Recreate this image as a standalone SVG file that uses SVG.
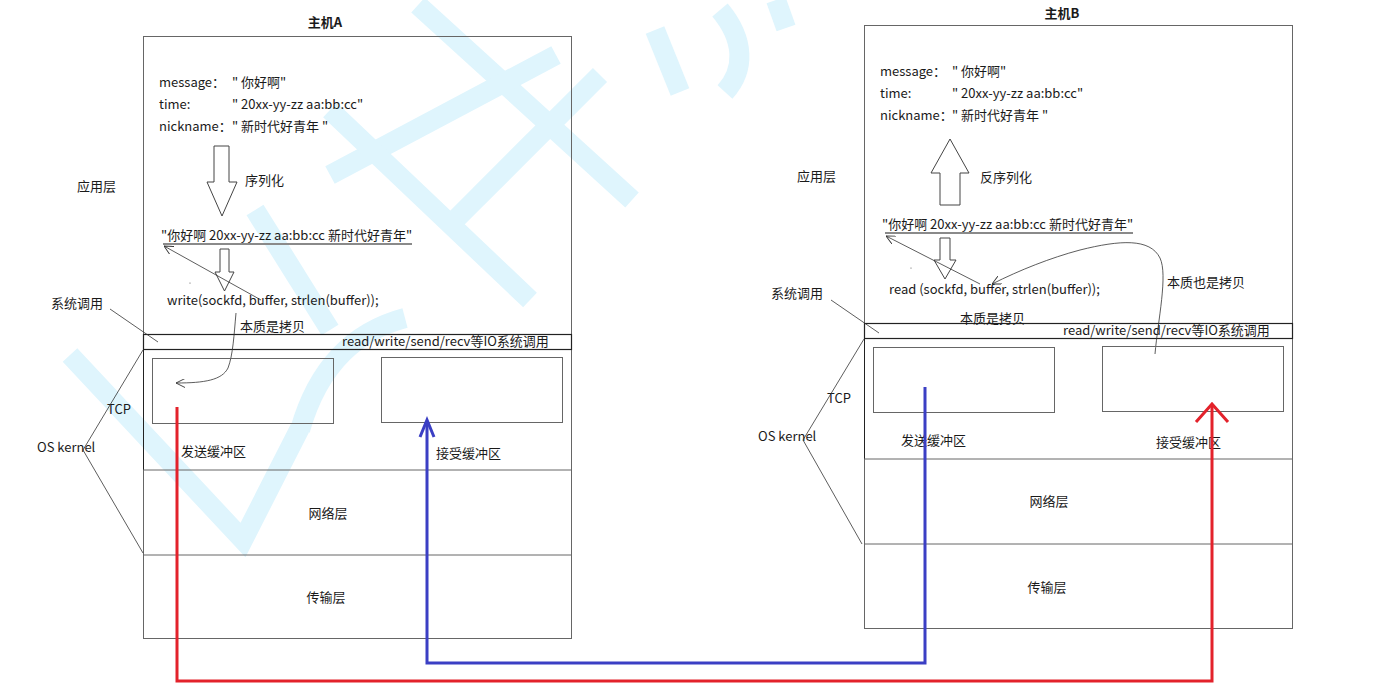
<svg xmlns="http://www.w3.org/2000/svg" width="1379" height="699" viewBox="0 0 1379 699">
<defs>
<style>
.t{font-family:"Noto Sans CJK SC","Noto Sans",sans-serif;font-size:13px;fill:#1a1a1a}
.b{font-weight:bold}
.box{fill:none;stroke:#666;stroke-width:1}
.band{fill:none;stroke:#222;stroke-width:1.2}
.ln{fill:none;stroke:#333;stroke-width:0.8}
.arr{fill:#fff;stroke:#444;stroke-width:1}
.ul{stroke:#8a8a8a;stroke-width:2}
.wm{fill:none;stroke:#dff5fd;stroke-width:20}
.red{fill:none;stroke:#e3222b;stroke-width:3}
.blue{fill:none;stroke:#3b3fc4;stroke-width:3}
</style>
<marker id="open" viewBox="0 0 10 10" refX="10" refY="5" markerWidth="9" markerHeight="9" orient="auto" markerUnits="userSpaceOnUse">
<path d="M0,0 L10,5 L0,10" fill="none" stroke="#333" stroke-width="1"/>
</marker>
</defs>
<rect width="1379" height="699" fill="#fff"/>
<g id="watermark">
<path class="wm" d="M418,5 L632,200"/>
<path class="wm" d="M556,55 L330,175"/>
<path class="wm" d="M600,75 L450,225"/>
<path class="wm" d="M330,110 L530,300"/>
<path class="wm" d="M255,210 L330,330"/>
<path class="wm" d="M300,430 C320,360 360,330 405,318"/>
<path class="wm" d="M70,355 L243,540 L300,428"/>
<path class="wm" d="M655,30 L680,92"/>
<path class="wm" d="M720,10 C745,40 745,70 725,92"/>
<path class="wm" d="M776,0 L786,28"/>
</g>
<g id="hostA">
<text x="325" y="27" text-anchor="middle" class="t b">主机A</text>
<rect x="143.5" y="36.5" width="428" height="602" class="box"/>
<rect x="143.5" y="334.5" width="428" height="15" class="band"/>
<line x1="143.5" y1="350" x2="143.5" y2="470" stroke="#222"/>
<line x1="143" y1="470" x2="572" y2="470" class="box"/>
<line x1="143" y1="555" x2="572" y2="555" class="box"/>
<text x="159" y="87" class="t">message：</text><text x="232" y="87" class="t">" 你好啊"</text>
<text x="159" y="109" class="t">time:</text><text x="232" y="109" class="t">" 20xx-yy-zz aa:bb:cc"</text>
<text x="159" y="131" class="t">nickname：</text><text x="232" y="131" class="t">" 新时代好青年 "</text>
<polygon class="arr" points="214,146 229,146 229,182 237,182 222,216 207,182 214,182"/>
<text x="245" y="185" class="t">序列化</text>
<text x="161" y="240" class="t">"你好啊 20xx-yy-zz aa:bb:cc 新时代好青年"</text>
<line x1="163" y1="244" x2="412" y2="244" class="ul"/>
<polygon class="arr" points="220,249 229,249 229,272 234,272 224.5,291 215,272 220,272"/>
<line x1="261" y1="300" x2="164" y2="246" class="ln" marker-end="url(#open)"/>
<circle cx="190" cy="283" r="0.6" fill="#555"/>
<text x="167" y="305" class="t">write(sockfd, buffer, strlen(buffer));</text>
<text x="240" y="331" class="t">本质是拷贝</text>
<path d="M236,313 C234,335 233,355 228,368 C222,380 205,383 176,383" class="ln" marker-end="url(#open)"/>
<text x="342" y="346" class="t">read/write/send/recv等IO系统调用</text>
<rect x="152.5" y="358.5" width="181" height="65" class="box"/>
<rect x="381.5" y="357.5" width="181" height="65" class="box"/>
<text x="181" y="456" class="t">发送缓冲区</text>
<text x="436" y="458" class="t">接受缓冲区</text>
<text x="328" y="518" text-anchor="middle" class="t">网络层</text>
<text x="326" y="602" text-anchor="middle" class="t">传输层</text>
<text x="77" y="191" class="t">应用层</text>
<text x="51" y="308" class="t">系统调用</text>
<line x1="110" y1="309" x2="158" y2="342" class="ln"/>
<text x="107" y="414" class="t">TCP</text>
<text x="37" y="452" class="t">OS kernel</text>
<polyline points="143,350 83,450 143,553" class="ln"/>
</g>
<g id="hostB">
<text x="1062" y="18" text-anchor="middle" class="t b">主机B</text>
<rect x="864.5" y="25.5" width="428" height="603" class="box"/>
<rect x="864.5" y="323.5" width="428" height="15" class="band"/>
<line x1="864.5" y1="339" x2="864.5" y2="459" stroke="#222"/>
<line x1="864" y1="459" x2="1293" y2="459" class="box"/>
<line x1="864" y1="544" x2="1293" y2="544" class="box"/>
<text x="880" y="76" class="t">message：</text><text x="952" y="76" class="t">" 你好啊"</text>
<text x="880" y="98" class="t">time:</text><text x="952" y="98" class="t">" 20xx-yy-zz aa:bb:cc"</text>
<text x="880" y="120" class="t">nickname：</text><text x="952" y="120" class="t">" 新时代好青年 "</text>
<polygon class="arr" points="950,139 969,173 960,173 960,205 940,205 940,173 931,173"/>
<text x="980" y="182" class="t">反序列化</text>
<text x="882" y="229" class="t">"你好啊 20xx-yy-zz aa:bb:cc 新时代好青年"</text>
<line x1="885" y1="233" x2="1133" y2="233" class="ul"/>
<polygon class="arr" points="940,238 950,238 950,260 956,260 945,279 934,260 940,260"/>
<line x1="980" y1="284" x2="886" y2="236" class="ln" marker-end="url(#open)"/>
<circle cx="911" cy="268" r="0.6" fill="#555"/>
<text x="889" y="294" class="t">read (sockfd, buffer, strlen(buffer));</text>
<text x="960" y="323" class="t">本质是拷贝</text>
<text x="1167" y="287" class="t">本质也是拷贝</text>
<path d="M1155,354 C1158,320 1168,275 1160,258 C1150,238 1120,240 1080,250 C1050,258 1020,270 992,284" class="ln" marker-end="url(#open)"/>
<text x="1063" y="335" class="t">read/write/send/recv等IO系统调用</text>
<rect x="873.5" y="347.5" width="181" height="65" class="box"/>
<rect x="1102.5" y="346.5" width="181" height="65" class="box"/>
<text x="901" y="445" class="t">发送缓冲区</text>
<text x="1156" y="447" class="t">接受缓冲区</text>
<text x="1049" y="506" text-anchor="middle" class="t">网络层</text>
<text x="1047" y="592" text-anchor="middle" class="t">传输层</text>
<text x="797" y="181" class="t">应用层</text>
<text x="771" y="298" class="t">系统调用</text>
<line x1="831" y1="300" x2="879" y2="333" class="ln"/>
<text x="827" y="403" class="t">TCP</text>
<text x="758" y="441" class="t">OS kernel</text>
<polyline points="864,339 803,440 862,544" class="ln"/>
</g>
<g id="connectors">
<path class="red" d="M177,407 L177,681 L1212,681 L1212,405"/>
<path class="red" d="M1196,422 L1212,404 L1228,422"/>
<path class="blue" d="M925,387 L925,663 L427,663 L427,421"/>
<path class="blue" d="M420,437 L427,420 L434,437"/>
</g>
</svg>
